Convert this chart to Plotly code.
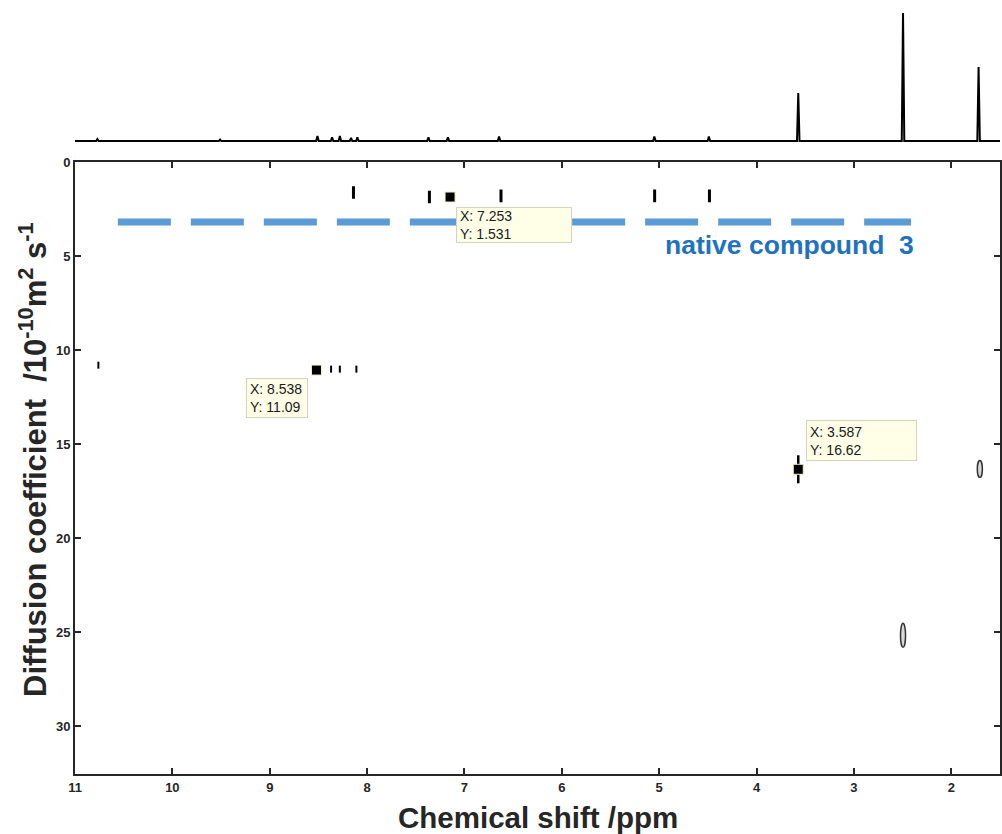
import plotly.graph_objects as go

# ---------------- data ----------------
# 1D spectrum on top (peak positions in ppm, relative heights)
spec_peak_ppm = [10.77, 9.51, 8.51, 8.36, 8.28, 8.165, 8.10, 7.37, 7.17, 6.645, 5.05, 4.49, 3.572, 2.496, 1.72]
spec_peak_height = [0.015, 0.012, 0.04, 0.03, 0.04, 0.025, 0.03, 0.03, 0.03, 0.035, 0.035, 0.035, 0.375, 1.0, 0.578]
spec_start_ppm = 11.0
spec_end_ppm = 1.50

# DOSY contour marks (small vertical signals)
sig_top_ppm = [8.14, 7.36, 6.625, 5.047, 4.484]
sig_top_D = [1.60, 1.84, 1.78, 1.78, 1.78]
sig_mid_ppm = [10.76, 8.37, 8.28, 8.11]
sig_mid_D = [10.79, 11.0, 11.0, 11.0]
sig_long_ppm = [3.572]
sig_long_D = [16.33]

# open elliptical contours (center ppm, center D, half-width ppm, half-height D)
ell_ppm = [1.707, 2.496]
ell_D = [16.31, 25.17]
ell_hw = [0.026, 0.026]
ell_hh = [0.45, 0.64]

# data tips
tip_ppm = [7.148, 8.52, 3.572]
tip_D = [1.84, 11.05, 16.33]
tip_text = ["X: 7.253<br>Y: 1.531", "X: 8.538<br>Y: 11.09", "X: 3.587<br>Y: 16.62"]

# native compound 3 reference line (two dashed pieces around the data tip)
native_ppm_a = [10.56, 6.195]
native_ppm_b = [5.894, 2.414]
native_D = [3.17, 3.17]
native_label_D = 4.4
native_label = "native compound  3"

x_ticks = [11, 10, 9, 8, 7, 6, 5, 4, 3, 2]
y_ticks = [0, 5, 10, 15, 20, 25, 30]
x_range = [11, 1.50]
y_range = [32.55, 0]

# ---------------- figure ----------------
AX = "#262626"
FONT = "Liberation Sans, Arial, sans-serif"

# spectrum polyline built from the peak list
sx, sy = [spec_start_ppm], [0.0]
w = 0.013
for p, h in sorted(zip(spec_peak_ppm, spec_peak_height), reverse=True):
    sx += [p + w, p, p - w]
    sy += [0.0, h, 0.0]
sx.append(spec_end_ppm)
sy.append(0.0)

fig = go.Figure()

fig.add_trace(go.Scatter(x=sx, y=sy, mode="lines", xaxis="x2", yaxis="y2",
                         line=dict(color="black", width=2), hoverinfo="skip"))

for seg in (native_ppm_a, native_ppm_b):
    fig.add_trace(go.Scatter(x=seg, y=native_D, mode="lines",
                             line=dict(color="#5b9bd5", width=7, dash="53px,20px"),
                             hoverinfo="skip"))

fig.add_trace(go.Scatter(x=sig_top_ppm, y=sig_top_D, mode="markers",
                         marker=dict(symbol="line-ns", size=9, line=dict(color="black", width=3))))
fig.add_trace(go.Scatter(x=sig_mid_ppm, y=sig_mid_D, mode="markers",
                         marker=dict(symbol="line-ns", size=5, line=dict(color="black", width=2))))
fig.add_trace(go.Scatter(x=sig_long_ppm, y=sig_long_D, mode="markers",
                         marker=dict(symbol="line-ns", size=20, line=dict(color="black", width=2.5))))

fig.add_trace(go.Scatter(x=tip_ppm, y=tip_D, mode="markers",
                         marker=dict(symbol="square", size=10, color="black",
                                     line=dict(color="#f4f0c0", width=1))))

for cx, cy, hw, hh in zip(ell_ppm, ell_D, ell_hw, ell_hh):
    fig.add_shape(type="circle", xref="x", yref="y",
                  x0=cx - hw, x1=cx + hw, y0=cy - hh, y1=cy + hh,
                  line=dict(color="#333333", width=1.5), fillcolor="#d8d8d8")

# data tip boxes
tip_cfg = [
    dict(xanchor="left", yanchor="top", xshift=6, yshift=-10, width=108, height=28, valign="middle"),
    dict(xanchor="right", yanchor="top", xshift=-8, yshift=-8, width=54, height=32, valign="middle"),
    dict(xanchor="left", yanchor="bottom", xshift=8, yshift=8, width=103, height=33, valign="top"),
]
for x, y, t, c in zip(tip_ppm, tip_D, tip_text, tip_cfg):
    fig.add_annotation(x=x, y=y, xref="x", yref="y", text=t, showarrow=False,
                       align="left", bgcolor="#ffffe8", bordercolor="#d4d4bc",
                       borderwidth=1, borderpad=3,
                       font=dict(family=FONT, size=14, color="#1a1a1a"), **c)

fig.add_annotation(x=native_ppm_b[1], y=native_label_D, xref="x", yref="y", text=native_label,
                   showarrow=False, xanchor="right", yanchor="middle", xshift=5,
                   font=dict(family=FONT, size=26.5, color="#1f72bf", weight="bold"))

# axis titles
fig.add_annotation(x=0.5, y=-0.057, xref="paper", yref="paper", text="Chemical shift /ppm",
                   showarrow=False, xanchor="center", yanchor="middle",
                   font=dict(family=FONT, size=29.5, color=AX, weight="bold"))
fig.add_annotation(x=-0.046, y=0.41, xref="paper", yref="paper",
                   text="Diffusion coefficient  /10<sup>-10</sup>m<sup>2</sup> s<sup>-1</sup>",
                   showarrow=False, textangle=-90, xanchor="center", yanchor="middle",
                   font=dict(family=FONT, size=31, color=AX, weight="bold"))

tickfont = dict(family=FONT, size=13, color=AX, weight="bold")
fig.update_layout(
    width=1002, height=834,
    margin=dict(l=75, r=0, t=0, b=60),
    paper_bgcolor="white", plot_bgcolor="white",
    showlegend=False,
    xaxis=dict(domain=[0, 1], range=x_range, anchor="y", tickvals=x_ticks,
               ticks="inside", ticklen=6, tickwidth=2, tickcolor=AX,
               showline=True, linewidth=2, linecolor=AX, mirror="ticks",
               showgrid=False, zeroline=False, tickfont=tickfont),
    yaxis=dict(domain=[0, 0.7973], range=y_range, anchor="x", tickvals=y_ticks,
               ticks="inside", ticklen=6, tickwidth=2, tickcolor=AX,
               showline=True, linewidth=2, linecolor=AX, mirror="ticks",
               showgrid=False, zeroline=False, tickfont=tickfont),
    xaxis2=dict(domain=[0, 1], range=x_range, anchor="y2", visible=False),
    yaxis2=dict(domain=[0.8135, 1], range=[-0.0703, 1.0469], anchor="x2", visible=False),
)

fig.write_html("out.html")
